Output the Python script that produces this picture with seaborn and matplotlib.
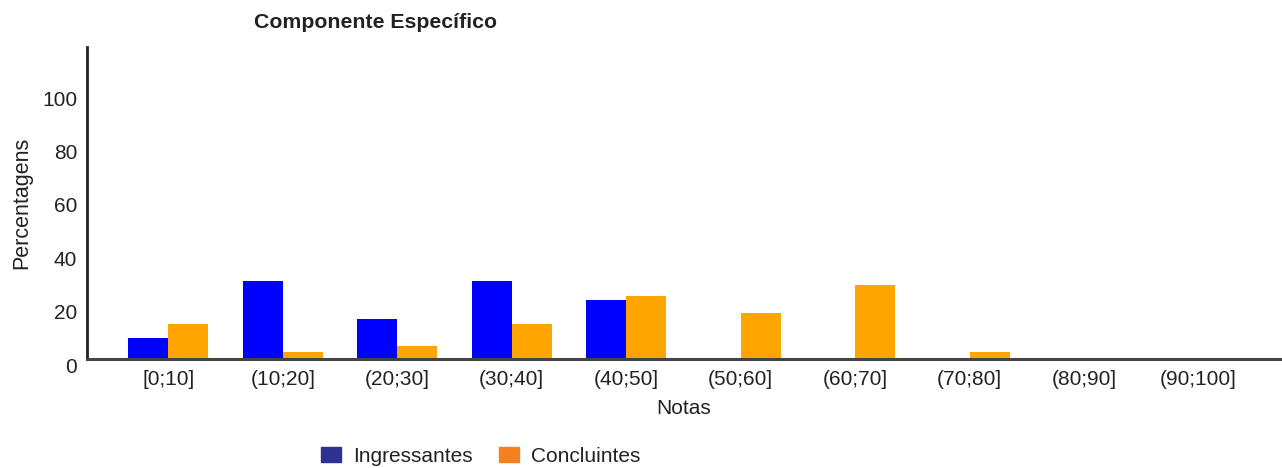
import pandas as pd
import seaborn as sns
import matplotlib.pyplot as plt
import matplotlib.transforms as mtransforms
from matplotlib.patches import Patch

## valores (percentagens por faixa de nota)
notas = ["[0;10]", "(10;20]", "(20;30]", "(30;40]", "(40;50]",
         "(50;60]", "(60;70]", "(70;80]", "(80;90]", "(90;100]"]
ingressantes = [7.9, 29.2, 15.0, 29.2, 22.1, 0, 0, 0, 0, 0]
concluintes = [13.1, 2.6, 4.9, 13.1, 23.6, 17.2, 27.7, 2.6, 0, 0]
grupos = ["Ingressantes", "Concluintes"]
cores_barras = ["#0000FF", "#FFA500"]
cores_legenda = ["#2E3192", "#F58220"]

df = pd.DataFrame({
    "Notas": notas * 2,
    "Percentagens": ingressantes + concluintes,
    "Grupo": [grupos[0]] * len(notas) + [grupos[1]] * len(notas),
})

sns.set_style("white")
plt.rcParams["font.family"] = ["Liberation Sans", "DejaVu Sans"]

fig = plt.figure(figsize=(12.82, 4.68), dpi=100)
ax = fig.add_axes([0.0679, 0.2329, 0.9305, 0.6667])

sns.barplot(data=df, x="Notas", y="Percentagens", hue="Grupo",
            palette=cores_barras, width=0.7, saturation=1,
            linewidth=0, ax=ax, legend=False)

ax.set_xlim(-0.71, 9.71)
ax.set_ylim(0, 117)
ax.set_yticks([0, 20, 40, 60, 80, 100])
ax.tick_params(axis="both", labelsize=15, length=0, colors="#222222")
ax.tick_params(axis="y", pad=7)
ax.tick_params(axis="x", pad=8)
ax.set_xlabel("Notas", fontsize=15, color="#222222", labelpad=7)
ax.set_ylabel("Percentagens", fontsize=15.5, color="#222222", labelpad=7)

## os rotulos do eixo y ficam um pouco abaixo das marcas no original
desloc = mtransforms.ScaledTranslation(0, -0.06, fig.dpi_scale_trans)
for lbl in ax.get_yticklabels():
    lbl.set_transform(lbl.get_transform() + desloc)

for s in ["top", "right"]:
    ax.spines[s].set_visible(False)
ax.spines["left"].set_color("#222222")
ax.spines["left"].set_linewidth(2)
ax.spines["bottom"].set_color("#444444")
ax.spines["bottom"].set_linewidth(2.2)

fig.text(0.293, 0.952, "Componente Específico", fontsize=15.3,
         fontweight="bold", color="#222222", ha="center", va="center")

handles = [Patch(color=c, label=g) for c, g in zip(cores_legenda, grupos)]
fig.legend(handles=handles, loc="center", bbox_to_anchor=(0.375, 0.025),
           ncol=2, frameon=False, fontsize=15, handlelength=0.95,
           handleheight=0.75, handletextpad=0.55, columnspacing=1.3,
           labelcolor="#222222")

fig.savefig("out.png", dpi=100)
